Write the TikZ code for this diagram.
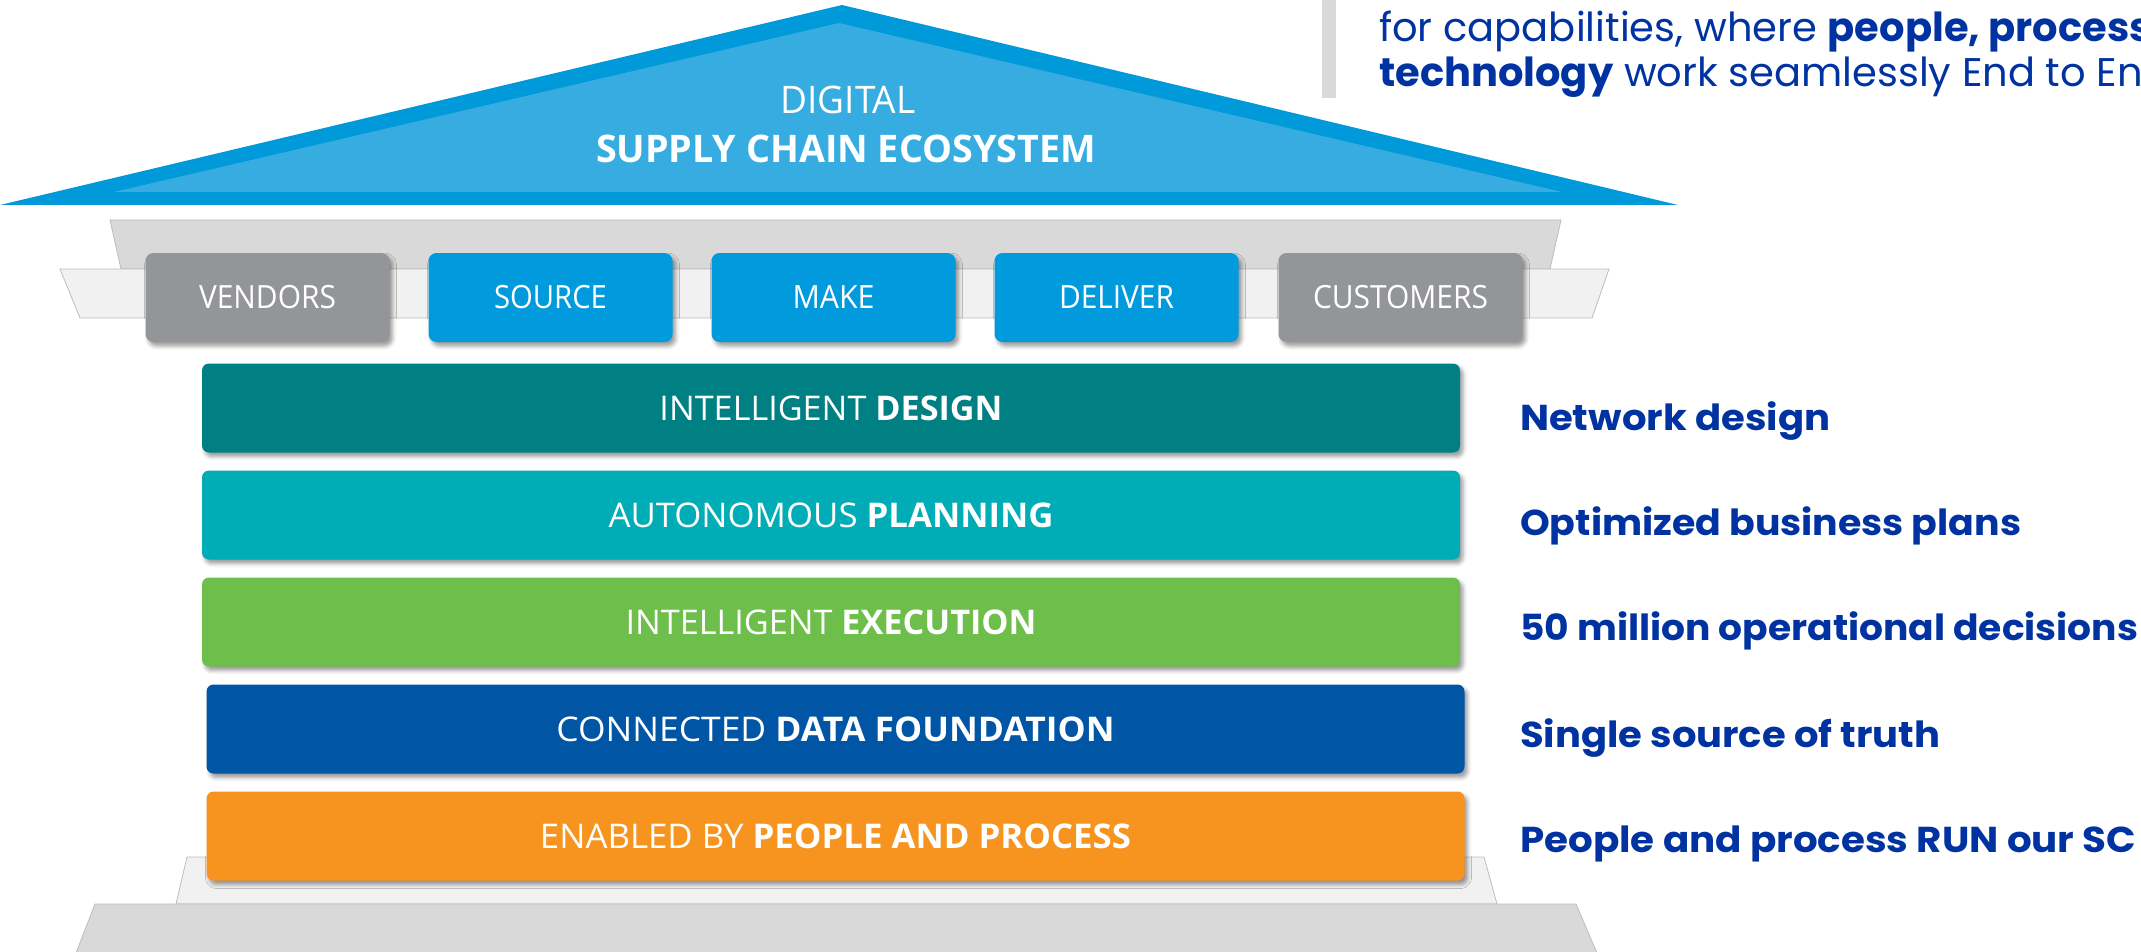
\documentclass[tikz,border=0pt]{standalone}
\usepackage{fontspec}
\setmainfont{Open Sans}
\newfontfamily\mont{Poppins}
\usepackage{graphicx}
\usetikzlibrary{shadows.blur}
\definecolor{roofout}{HTML}{0099D9}
\definecolor{roofin}{HTML}{36ACE1}
\definecolor{pillgray}{HTML}{939598}
\definecolor{pillblue}{HTML}{009ADD}
\definecolor{barA}{HTML}{008083}
\definecolor{barB}{HTML}{00ACB5}
\definecolor{barC}{HTML}{6DBE4B}
\definecolor{barD}{HTML}{0055A5}
\definecolor{barE}{HTML}{F6941F}
\definecolor{lblue}{HTML}{0033A1}
\definecolor{paneldark}{HTML}{D9D9D9}
\definecolor{panellight}{HTML}{F1F1F1}
\definecolor{paneledge}{HTML}{BDBDBD}
\newcommand{\fitw}[2]{\resizebox{#1pt}{\height}{#2}}
\begin{document}
\begin{tikzpicture}[x=1pt,y=-1pt,
  pillbox/.style={rounded corners=8pt, minimum width=244pt, minimum height=89pt, inner sep=0pt, text=white,
    font=\fontsize{32}{38}\selectfont,
    blur shadow={shadow xshift=3pt, shadow yshift=-4pt, shadow blur radius=4pt, shadow opacity=40}},
  barbox/.style={rounded corners=7pt, minimum width=1258pt, minimum height=89pt, inner sep=0pt, text=white,
    font=\fontsize{34}{40}\selectfont,
    blur shadow={shadow xshift=3pt, shadow yshift=-4pt, shadow blur radius=4pt, shadow opacity=40}},
  lbl/.style={anchor=base west, inner sep=0pt, text=lblue, font=\mont\bfseries\fontsize{36}{44}\selectfont},
  intro/.style={anchor=base west, inner sep=0pt, text=lblue, font=\mont\fontsize{40}{45}\selectfont},
  rooftext/.style={anchor=base, inner sep=0pt, text=white},
  panel/.style={draw=paneledge, line width=0.8pt}
]
\useasboundingbox (0,0) rectangle (2141,952);
\clip (0,0) rectangle (2141,952);

% roof
\fill[roofout] (0,205) -- (842,5) -- (1678,205) -- cycle;
\fill[roofin] (114,192) -- (839,23) -- (1562,192) -- cycle;
\node[rooftext, font=\fontsize{38}{44}\selectfont] (digital) at (848,114) {\fitw{135}{DIGITAL}};
\node[rooftext, font=\bfseries\fontsize{38}{44}\selectfont] (ecosys) at (846,163) {\fitw{500}{SUPPLY CHAIN ECOSYSTEM}};

% intro text
\fill[paneldark] (1322,0) rectangle (1336,98);
\node[intro] (introa) at (1379,42) {for capabilities, where \textbf{people, process}};
\node[intro] (introb) at (1379,87) {\textbf{technology} work seamlessly End to End};

% upper panels
\filldraw[panel, fill=paneldark] (110,220) -- (1561,220) -- (1550,269) -- (121,269) -- cycle;
\filldraw[panel, fill=panellight] (60,269) -- (1609,269) -- (1592,318) -- (80,318) -- cycle;

% pills
\node[pillbox, fill=pillgray] (vendors) at (267.5,297.5) {\fitw{137}{VENDORS}};
\node[pillbox, fill=pillblue] (source) at (550.5,297.5) {\fitw{113}{SOURCE}};
\node[pillbox, fill=pillblue] (make) at (833.5,297.5) {\fitw{82}{MAKE}};
\node[pillbox, fill=pillblue] (deliver) at (1116.5,297.5) {\fitw{115}{DELIVER}};
\node[pillbox, fill=pillgray] (customers) at (1400.5,297.5) {\fitw{175}{CUSTOMERS}};

% base
\filldraw[panel, fill=panellight] (187,857) -- (1484,857) -- (1497,904) -- (176,904) -- cycle;
\filldraw[panel, fill=paneldark] (95,904) -- (1576,904) -- (1597,953) -- (76,953) -- cycle;

% bars
\node[barbox, fill=barA] (design) at (831,408) {\fitw{343}{INTELLIGENT \textbf{DESIGN}}};
\node[barbox, fill=barB] (planning) at (831,515) {\fitw{445}{AUTONOMOUS \textbf{PLANNING}}};
\node[barbox, fill=barC] (execution) at (831,622) {\fitw{411}{INTELLIGENT \textbf{EXECUTION}}};
\node[barbox, fill=barD] (data) at (835.5,729) {\fitw{558}{CONNECTED \textbf{DATA FOUNDATION}}};
\node[barbox, fill=barE] (people) at (835.5,836) {\fitw{591}{ENABLED BY \textbf{PEOPLE AND PROCESS}}};

% right labels
\node[lbl] (lnet) at (1520,430) {\fitw{310}{Network design}};
\node[lbl] (lopt) at (1520,535) {\fitw{501}{Optimized business plans}};
\node[lbl] (lfifty) at (1520,640) {\fitw{618}{50 million operational decisions}};
\node[lbl] (lsingle) at (1520,747) {\fitw{420}{Single source of truth}};
\node[lbl] (lrun) at (1520,852) {\fitw{616}{People and process RUN our SC}};
\end{tikzpicture}
\end{document}
